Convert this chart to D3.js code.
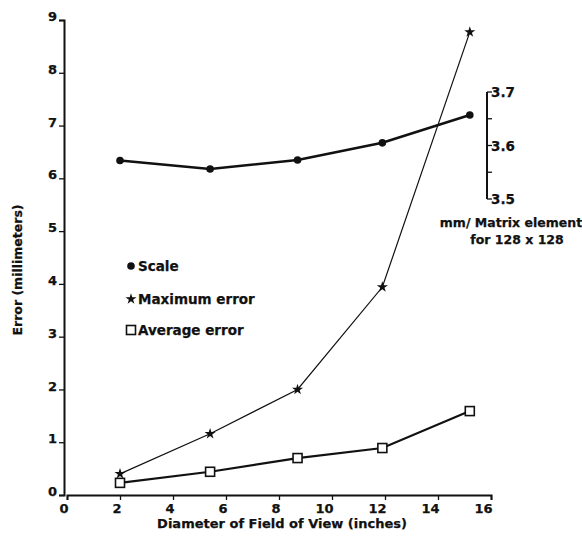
<!DOCTYPE html>
<html>
<head>
<meta charset="utf-8">
<script src="https://cdn.jsdelivr.net/npm/d3@7"></script>
<style>
  body { margin: 0; background: #fff; }
  svg text { font-family: "DejaVu Sans", sans-serif; font-weight: bold; fill: #111; stroke: #111; stroke-width: 0.25px; }
</style>
</head>
<body>
<svg id="chart" width="582" height="538"></svg>
<script>
// field of view diameter (inches)
const fov = [2, 5.4, 8.7, 11.9, 15.2];
// errors in mm
const maxError = [0.40, 1.16, 2.0, 3.94, 8.77];
const avgError = [0.23, 0.44, 0.70, 0.89, 1.59];
// mm per matrix element, 128 x 128 (right-hand scale)
const scaleMm = [3.572, 3.556, 3.573, 3.605, 3.657];

const xTicks = [0, 2, 4, 6, 8, 10, 12, 14, 16];
const yTicks = [0, 1, 2, 3, 4, 5, 6, 7, 8, 9];
const rTicks = [3.5, 3.55, 3.6, 3.65, 3.7];
const rLabels = [3.5, 3.6, 3.7];

const svg = d3.select('#chart');

const x = d3.scaleLinear().domain([0, 16]).range([67, 491]);
const y = d3.scaleLinear().domain([0, 9]).range([495, 20]);
const yR = d3.scaleLinear().domain([3.5, 3.7]).range([199, 92]);

// left axis
const yAxis = svg.append('g')
  .attr('transform', 'translate(64,0)')
  .call(d3.axisLeft(y).tickValues(yTicks).tickSize(5).tickFormat(d3.format('d')));
yAxis.selectAll('text')
  .attr('x', -7)
  .attr('dy', '0.05em')
  .style('font-size', '13px');

// bottom axis
const xAxis = svg.append('g')
  .attr('transform', 'translate(0,495)')
  .call(d3.axisBottom(x).tickValues(xTicks).tickSize(5).tickFormat(d3.format('d')));
xAxis.selectAll('text')
  .attr('text-anchor', 'end')
  .attr('x', 1)
  .attr('y', 9)
  .style('font-size', '13px');

svg.selectAll('.domain').attr('stroke', '#111').attr('stroke-width', 2);
svg.selectAll('.tick line').attr('stroke', '#111').attr('stroke-width', 1.3);

// right axis (mm / matrix element)
const rAxis = svg.append('g').attr('transform', 'translate(487,0)');
rAxis.append('line')
  .attr('y1', yR(3.5)).attr('y2', yR(3.7))
  .attr('stroke', '#111').attr('stroke-width', 2);
rAxis.selectAll('.rt')
  .data(rTicks)
  .join('line')
  .attr('x1', 0).attr('x2', 5)
  .attr('y1', d => yR(d)).attr('y2', d => yR(d))
  .attr('stroke', '#111').attr('stroke-width', 1.3);
rAxis.selectAll('.rl')
  .data(rLabels)
  .join('text')
  .attr('x', 4)
  .attr('y', d => yR(d))
  .attr('dy', '0.4em')
  .style('font-size', '13.5px')
  .text(d => d.toFixed(1));

svg.append('text')
  .attr('x', 511).attr('y', 227)
  .attr('text-anchor', 'middle')
  .style('font-size', '12.5px')
  .text('mm/ Matrix element');
svg.append('text')
  .attr('x', 517).attr('y', 244)
  .attr('text-anchor', 'middle')
  .style('font-size', '12.5px')
  .text('for 128 x 128');

// axis titles
svg.append('text')
  .attr('transform', 'translate(22,270) rotate(-90)')
  .attr('text-anchor', 'middle')
  .style('font-size', '12.5px')
  .text('Error (millimeters)');
svg.append('text')
  .attr('x', 282).attr('y', 528)
  .attr('text-anchor', 'middle')
  .style('font-size', '13px')
  .text('Diameter of Field of View (inches)');

// series
const scaleLine = d3.line().x((d, i) => x(fov[i])).y(d => yR(d));
const errLine = d3.line().x((d, i) => x(fov[i])).y(d => y(d));

svg.append('path')
  .attr('d', scaleLine(scaleMm))
  .attr('fill', 'none').attr('stroke', '#111').attr('stroke-width', 2.6);
svg.selectAll('.sc')
  .data(scaleMm)
  .join('circle')
  .attr('cx', (d, i) => x(fov[i]))
  .attr('cy', d => yR(d))
  .attr('r', 3.8)
  .attr('fill', '#111');

svg.append('path')
  .attr('d', errLine(maxError))
  .attr('fill', 'none').attr('stroke', '#111').attr('stroke-width', 1.2);
const star = d3.symbol().type(d3.symbolStar).size(38);
svg.selectAll('.st')
  .data(maxError)
  .join('path')
  .attr('d', star)
  .attr('transform', (d, i) => `translate(${x(fov[i])},${y(d)})`)
  .attr('fill', '#111');

svg.append('path')
  .attr('d', errLine(avgError))
  .attr('fill', 'none').attr('stroke', '#111').attr('stroke-width', 2.2);
svg.selectAll('.sq')
  .data(avgError)
  .join('rect')
  .attr('x', (d, i) => x(fov[i]) - 4.5)
  .attr('y', d => y(d) - 4.5)
  .attr('width', 9).attr('height', 9)
  .attr('fill', '#fff').attr('stroke', '#111').attr('stroke-width', 1.6);

// legend
const legend = svg.append('g').attr('transform', 'translate(131,0)');
legend.append('circle').attr('cx', 0).attr('cy', 266).attr('r', 3.8).attr('fill', '#111');
legend.append('path').attr('d', star).attr('transform', 'translate(0,299)').attr('fill', '#111');
legend.append('rect').attr('x', -4.5).attr('y', 325.5).attr('width', 9).attr('height', 9)
  .attr('fill', '#fff').attr('stroke', '#111').attr('stroke-width', 1.6);
const legendText = ['Scale', 'Maximum error', 'Average error'];
const legendY = [266, 299, 330];
legend.selectAll('.lt')
  .data(legendText)
  .join('text')
  .attr('x', 7)
  .attr('y', (d, i) => legendY[i])
  .attr('dy', '0.38em')
  .style('font-size', '13.5px')
  .text(d => d);
</script>
</body>
</html>
